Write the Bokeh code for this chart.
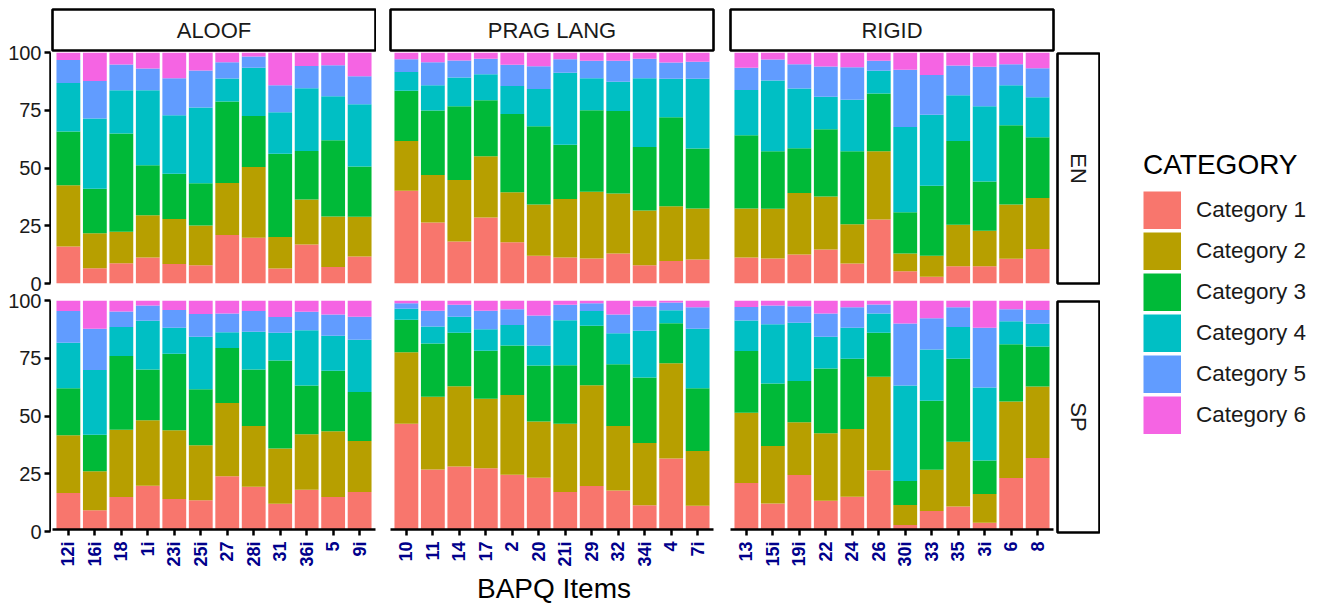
from math import pi

from bokeh.core.properties import value
from bokeh.embed import file_html
from bokeh.layouts import column, row
from bokeh.models import (ColumnDataSource, FixedTicker, Legend, LegendItem,
                          Range1d, Spacer)
from bokeh.plotting import figure
from bokeh.resources import INLINE

FONT = "Liberation Sans"

categories = ["Category 1", "Category 2", "Category 3",
              "Category 4", "Category 5", "Category 6"]
palette = ["#F8766D", "#B79F00", "#00BA38", "#00BFC4", "#619CFF", "#F564E3"]

domains = ["ALOOF", "PRAG LANG", "RIGID"]
languages = ["EN", "SP"]
x_title = "BAPQ Items"
legend_title = "CATEGORY"

aloof_items = ["12i", "16i", "18", "1i", "23i", "25i", "27", "28i", "31", "36i", "5", "9i"]
prag_items = ["10", "11", "14", "17", "2", "20", "21i", "29", "32", "34i", "4", "7i"]
rigid_items = ["13", "15i", "19i", "22", "24", "26", "30i", "33", "35", "3i", "6", "8"]

# Percentage of answers per item, ordered Category 1 .. Category 6
aloof_en = [
    [16.0, 26.5, 23.3, 21.0, 9.9, 3.3],
    [6.6, 15.1, 19.3, 30.4, 16.3, 12.3],
    [8.8, 13.6, 42.5, 18.8, 11.1, 5.2],
    [11.3, 18.2, 21.7, 32.5, 9.4, 6.9],
    [8.4, 19.5, 19.6, 25.3, 16.1, 11.1],
    [7.9, 17.2, 18.3, 32.8, 16.0, 7.8],
    [21.0, 22.5, 35.3, 9.9, 7.1, 4.2],
    [19.8, 30.6, 22.1, 20.9, 4.9, 1.7],
    [6.5, 13.6, 36.1, 17.9, 11.7, 14.2],
    [16.9, 19.5, 21.0, 27.1, 9.7, 5.8],
    [7.1, 21.9, 33.0, 19.1, 13.4, 5.5],
    [11.7, 17.2, 21.7, 27.0, 12.1, 10.3],
]
prag_en = [
    [40.2, 21.5, 21.7, 8.2, 5.5, 2.9],
    [26.4, 20.6, 27.9, 10.9, 10.0, 4.2],
    [18.2, 26.6, 31.9, 12.5, 7.3, 3.5],
    [28.6, 26.5, 24.2, 11.3, 6.7, 2.7],
    [17.9, 21.6, 33.9, 12.1, 9.2, 5.3],
    [12.0, 22.2, 33.9, 16.1, 9.9, 5.9],
    [11.3, 25.3, 23.5, 31.1, 5.9, 2.9],
    [10.8, 28.9, 35.3, 13.9, 7.5, 3.6],
    [13.0, 26.0, 35.7, 12.6, 9.1, 3.6],
    [7.9, 23.7, 27.5, 29.8, 8.4, 2.7],
    [9.7, 23.7, 38.6, 16.6, 7.1, 4.3],
    [10.4, 22.1, 25.9, 30.2, 7.4, 4.0],
]
rigid_en = [
    [11.3, 21.2, 31.7, 19.6, 9.6, 6.6],
    [10.8, 21.6, 24.8, 30.7, 9.1, 3.0],
    [12.6, 26.6, 19.3, 25.9, 10.5, 5.1],
    [14.7, 23.0, 29.1, 14.0, 13.1, 6.1],
    [8.7, 16.9, 31.6, 22.3, 14.1, 6.4],
    [27.7, 29.5, 25.0, 9.9, 4.3, 3.6],
    [5.3, 7.7, 17.8, 37.0, 24.7, 7.5],
    [2.9, 9.1, 30.3, 30.7, 17.3, 9.7],
    [7.5, 17.9, 36.3, 19.8, 12.9, 5.6],
    [7.5, 15.3, 21.4, 32.5, 17.1, 6.2],
    [10.7, 23.5, 34.3, 17.3, 9.1, 5.1],
    [14.9, 22.1, 26.3, 17.3, 12.6, 6.8],
]
aloof_sp = [
    [15.9, 25.3, 20.5, 19.9, 13.8, 4.6],
    [8.4, 17.0, 16.0, 28.2, 18.1, 12.3],
    [14.2, 29.4, 32.2, 12.6, 6.8, 4.8],
    [19.1, 28.6, 22.2, 21.3, 6.6, 2.2],
    [13.3, 30.0, 33.4, 11.4, 7.7, 4.2],
    [12.8, 24.0, 24.4, 23.0, 9.9, 5.9],
    [23.2, 32.0, 24.1, 6.8, 8.2, 5.7],
    [18.7, 26.5, 24.7, 16.5, 9.0, 4.6],
    [11.2, 24.2, 38.4, 12.1, 6.9, 7.2],
    [17.4, 24.2, 21.3, 24.1, 8.1, 4.9],
    [14.2, 28.7, 26.4, 15.3, 9.3, 6.1],
    [16.4, 22.2, 21.4, 22.9, 10.0, 7.1],
]
prag_sp = [
    [46.2, 31.2, 14.2, 4.8, 2.4, 1.2],
    [26.2, 31.8, 23.2, 7.4, 6.9, 4.5],
    [27.5, 35.1, 23.3, 7.0, 5.2, 1.9],
    [26.7, 30.4, 21.0, 9.4, 8.0, 4.5],
    [23.9, 34.8, 21.6, 9.0, 6.9, 3.8],
    [22.6, 24.6, 24.4, 8.7, 13.2, 6.5],
    [16.4, 29.8, 25.5, 19.7, 6.7, 1.9],
    [19.0, 44.0, 26.0, 6.4, 3.4, 1.2],
    [17.0, 28.2, 27.0, 13.5, 8.2, 6.1],
    [10.6, 27.2, 28.6, 20.4, 10.6, 2.6],
    [31.0, 41.6, 17.5, 5.6, 3.4, 0.9],
    [10.4, 23.9, 27.4, 26.0, 9.3, 3.0],
]
rigid_sp = [
    [20.3, 30.7, 27.0, 13.3, 5.9, 2.8],
    [11.3, 25.2, 27.3, 25.8, 8.2, 2.2],
    [23.8, 23.0, 18.0, 25.5, 7.2, 2.5],
    [12.6, 29.4, 28.3, 13.9, 10.1, 5.7],
    [14.3, 29.6, 30.7, 13.5, 8.9, 3.0],
    [25.9, 40.8, 19.2, 8.4, 4.0, 1.7],
    [2.0, 8.7, 10.5, 41.7, 27.1, 10.0],
    [8.1, 18.0, 30.1, 22.4, 13.6, 7.8],
    [10.0, 28.3, 36.3, 13.8, 8.7, 2.9],
    [2.9, 12.6, 14.6, 31.9, 26.1, 11.9],
    [22.5, 33.4, 25.0, 10.0, 5.3, 3.8],
    [31.2, 31.3, 17.4, 10.0, 6.0, 4.1],
]

y_ticks = [0, 25, 50, 75, 100]

PANEL_H = 231
EN_GAP = 17
BOTTOM = 38
TITLE_H = 35


def bare(width, height, left=0, right=0, top=0, bottom=0, x_axis=None, y_axis=None,
         xr=None, yr=None, transparent=False):
    p = figure(width=width, height=height, output_backend="svg", toolbar_location=None,
               x_range=xr or Range1d(0, 1), y_range=yr or Range1d(0, 1),
               x_axis_location=x_axis, y_axis_location=y_axis,
               min_border_left=left, min_border_right=right,
               min_border_top=top, min_border_bottom=bottom)
    p.xgrid.grid_line_color = None
    p.ygrid.grid_line_color = None
    p.outline_line_color = None
    if transparent:
        p.background_fill_alpha = 0
        p.border_fill_alpha = 0
    else:
        p.background_fill_color = "white"
        p.border_fill_color = "white"
    return p


def style_axis(ax):
    ax.axis_line_color = "black"
    ax.axis_line_width = 2.5
    ax.major_tick_line_color = "black"
    ax.major_tick_line_width = 2.5
    ax.major_tick_in = 0
    ax.major_tick_out = 6
    ax.minor_tick_line_color = None


def strip(label, width, height, left, right, top, bottom, angle=0.0):
    p = bare(width, height, left, right, top, bottom)
    p.outline_line_color = "black"
    p.outline_line_width = 2.6
    p.text(x=[0.5], y=[0.5], text=[label], angle=angle,
           text_align="center", text_baseline="middle",
           text_font=value(FONT), text_font_size="22px", text_color="#1a1a1a")
    return p


def y_axis_fig(height, top, bottom, margin=None):
    p = bare(51, height, left=50, right=0, top=top, bottom=bottom, y_axis="left",
             yr=Range1d(0, 100), transparent=True)
    if margin is not None:
        p.margin = margin
    ax = p.yaxis[0]
    style_axis(ax)
    ax.ticker = FixedTicker(ticks=y_ticks)
    ax.major_label_standoff = 3
    ax.major_label_text_font = FONT
    ax.major_label_text_font_size = "20px"
    ax.major_label_text_color = "#1a1a1a"
    return p


def panel(items, shares, width, left, lang):
    xs = list(range(1, len(items) + 1))
    data = {"x": xs}
    for cat, vals in zip(categories, zip(*shares)):
        data[cat] = list(vals)
    src = ColumnDataSource(data)
    is_sp = lang == "SP"
    p = bare(width, PANEL_H + (BOTTOM if is_sp else EN_GAP), left=left, right=0,
             top=0, bottom=BOTTOM if is_sp else EN_GAP,
             x_axis="below" if is_sp else None,
             xr=Range1d(0.4, len(items) + 0.6), yr=Range1d(0, 100))
    p.vbar_stack(categories, x="x", width=0.9, fill_color=palette,
                 line_color=None, source=src)
    if is_sp:
        ax = p.xaxis[0]
        style_axis(ax)
        ax.ticker = FixedTicker(ticks=xs)
        ax.major_label_overrides = {x: lab for x, lab in zip(xs, items)}
        ax.major_label_orientation = pi / 2
        ax.major_label_standoff = 6
        ax.major_label_text_font = FONT
        ax.major_label_text_font_size = "18px"
        ax.major_label_text_font_style = "bold"
        ax.major_label_text_color = "#00008B"
    return p


# left column: the two y axes; the lower canvas overlaps the upper one
# (transparently) so both the "0" and the "100" labels have room
axis_col = column(y_axis_fig(300, top=52, bottom=17),
                  y_axis_fig(PANEL_H + 17 + BOTTOM, top=17, bottom=BOTTOM,
                             margin=(-17, 0, 0, 0)))

# facet columns
col_a = column(strip(domains[0], 325, 52, 1, 1, 9, 2),
               panel(aloof_items, aloof_en, 325, 0, "EN"),
               panel(aloof_items, aloof_sp, 325, 0, "SP"))
col_b = column(strip(domains[1], 340, 52, 14, 3, 9, 2),
               panel(prag_items, prag_en, 340, 14, "EN"),
               panel(prag_items, prag_sp, 340, 14, "SP"))
col_c = column(strip(domains[2], 340, 52, 14, 3, 9, 2),
               panel(rigid_items, rigid_en, 340, 14, "EN"),
               panel(rigid_items, rigid_sp, 340, 14, "SP"))

# row strips on the right
col_d = column(Spacer(width=44, height=52),
               strip(languages[0], 44, 248, 1, 1, 1, EN_GAP, angle=-pi / 2),
               strip(languages[1], 44, PANEL_H + 1 + BOTTOM, 1, 1, 1, BOTTOM,
                     angle=-pi / 2))

# shared x-axis title, centred under the three facet columns
tp = bare(1100, TITLE_H, left=51, right=44)
tp.text(x=[0.5], y=[0.48], text=[x_title], text_align="center",
        text_baseline="middle",
        text_font=value(FONT), text_font_size="28px", text_color="black")

# legend: zero-length thick strokes serve as square colour keys
lp = bare(220, 604)
items = []
for cat, col in zip(categories, palette):
    r = lp.line(x=[0.5, 0.5], y=[0.5, 0.5], line_width=38, line_color=col,
                line_cap="butt")
    items.append(LegendItem(label=cat, renderers=[r]))
legend = Legend(items=items, location=(43, 170), title=legend_title,
                glyph_width=38, glyph_height=38, spacing=3, padding=0, margin=0,
                label_standoff=15, title_standoff=10,
                label_text_font=FONT, label_text_font_size="22.5px",
                label_text_color="#1a1a1a",
                title_text_font=FONT, title_text_font_size="28px",
                title_text_font_style="normal", title_text_color="black",
                border_line_color=None, background_fill_alpha=0)
lp.add_layout(legend)

grid = row(axis_col, col_a, col_b, col_c, col_d)
layout = row(column(grid, tp), lp)

with open("out.html", "w") as f:
    f.write(file_html(layout, INLINE))
